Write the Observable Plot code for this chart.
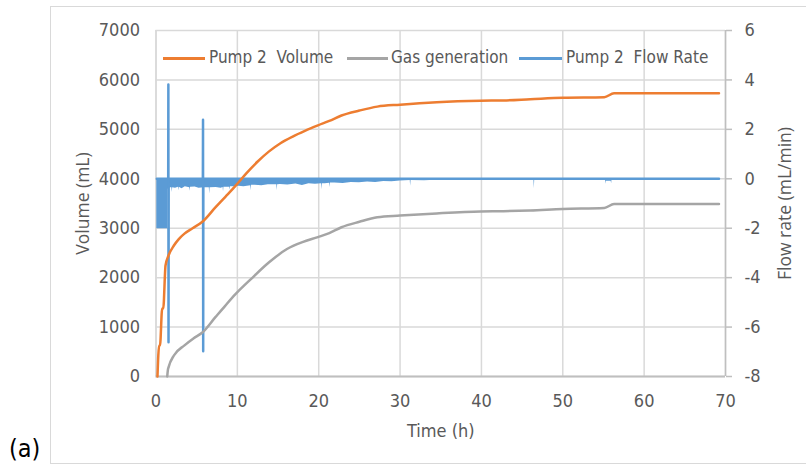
<!DOCTYPE html>
<html>
<head>
<meta charset="utf-8">
<script src="https://cdn.jsdelivr.net/npm/d3@7"></script>
<script src="https://cdn.jsdelivr.net/npm/@observablehq/plot@0.6"></script>
<style>
  html, body { margin: 0; padding: 0; background: #fff; }
  #wrap { position: relative; width: 806px; height: 467px; overflow: hidden; }
  #border { position: absolute; left: 50px; top: 6px; width: 800px; height: 458px; border: 1.5px solid #d9d9d9; box-sizing: border-box; }
  #chart { position: absolute; left: 0; top: 0; }
  .narrow { font-family: "Liberation Sans Narrow", "DejaVu Sans Condensed", "Roboto", sans-serif; }
  #tag { position: absolute; left: 9px; top: 436px; font-size: 25px; line-height: 1; color: #000; }
  .leg { position: absolute; font-size: 17px; color: #595959; white-space: pre; line-height: 1; }
  .sw { position: absolute; height: 3px; }
</style>
</head>
<body>
<div id="wrap">
  <div id="border"></div>
  <div id="chart"></div>
  <div id="tag" class="narrow">(a)</div>
  <div class="sw" style="left:163px;top:57px;width:42px;background:#ED7D31"></div>
  <div class="leg narrow" style="left:209px;top:49px">Pump 2  Volume</div>
  <div class="sw" style="left:347px;top:57px;width:41px;background:#A5A5A5"></div>
  <div class="leg narrow" style="left:391px;top:49px">Gas generation</div>
  <div class="sw" style="left:519px;top:57px;width:43px;background:#5B9BD5"></div>
  <div class="leg narrow" style="left:566px;top:49px">Pump 2  Flow Rate</div>
</div>
<script>
// ---- data ----
const xTicks = [0, 10, 20, 30, 40, 50, 60, 70];
const volTicks = [0, 1000, 2000, 3000, 4000, 5000, 6000, 7000];
const flowTicks = [-8, -6, -4, -2, 0, 2, 4, 6];

// Pump 2 Volume (mL)
const volT = [0.18, 0.39, 0.49, 0.76, 0.89, 1.17, 1.54, 2.2, 2.8, 3.5, 4.5, 5.7, 7.3, 8.5, 9.8, 11.1, 12.5, 13.9, 15.3, 16.8, 18.3, 19.9, 21.3, 22.8, 25.0, 27.2, 30.0, 34.5, 39.9, 42.7, 46.0, 50.0, 55.1, 56.3, 69.2];
const volV = [0, 627, 627, 1376, 1376, 2245, 2448, 2650, 2780, 2890, 3000, 3130, 3420, 3630, 3860, 4110, 4350, 4555, 4720, 4855, 4970, 5080, 5170, 5280, 5380, 5460, 5500, 5550, 5580, 5585, 5610, 5640, 5650, 5730, 5730];

// Gas generation (mL)
const gasT = [1.38, 1.45, 1.55, 2.2, 3.5, 4.6, 5.7, 7.3, 8.5, 9.8, 11.7, 13.9, 16.1, 18.0, 19.9, 21.3, 22.8, 25.0, 27.2, 30.0, 34.5, 39.9, 42.7, 46.0, 50.0, 55.1, 56.3, 69.2];
const gasV = [0, 120, 190, 425, 630, 770, 890, 1200, 1430, 1670, 1975, 2310, 2580, 2720, 2820, 2900, 3020, 3130, 3220, 3255, 3300, 3340, 3345, 3360, 3390, 3410, 3490, 3490];

// Pump 2 Flow Rate (mL/min): baseline with spikes
const flowT = [0.1, 1.50, 1.52, 1.54, 1.56, 5.76, 5.78, 5.80, 5.82, 69.2];
const flowF = [0, 0, 3.81, -6.61, 0, 0, 2.39, -6.98, 0, 0];

// Pump 2 Flow Rate: lower envelope of the rapid oscillation (upper = 0)
const bandT = [0.1, 1.46, 1.47, 1.8, 1.95, 2.0, 2.05, 2.4, 2.75, 2.8, 2.85, 3.2, 3.6, 4.15, 4.2, 4.25, 4.8, 5.3, 5.9, 6.55, 6.6, 6.65, 7.4, 8.0, 8.25, 8.3, 8.35, 9.05, 9.1, 9.15, 9.5, 10.2, 10.8, 11.65, 11.7, 11.75, 12.2, 13.0, 13.8, 14.85, 14.9, 14.95, 15.3, 16.2, 17.2, 18.0, 18.8, 19.6, 20.35, 20.4, 20.45, 20.8, 21.35, 21.4, 21.45, 22.0, 23.0, 24.0, 25.0, 26.0, 27.0, 28.0, 29.0, 30.0, 31.25, 31.3, 31.35, 33.0, 35.0, 37.0, 40.0, 42.0, 45.0, 46.45, 46.5, 46.55, 50.0, 55.0, 55.25, 55.3, 55.35, 55.6, 55.95, 56.0, 56.05, 56.4, 57.0, 69.2];
const bandLow = [-2.02, -2.02, -0.42, -0.36, -0.36, -0.55, -0.36, -0.38, -0.34, -0.48, -0.34, -0.4, -0.32, -0.36, -0.5, -0.34, -0.33, -0.38, -0.36, -0.36, -0.62, -0.36, -0.35, -0.38, -0.35, -0.52, -0.34, -0.34, -0.46, -0.32, -0.32, -0.3, -0.32, -0.28, -0.48, -0.26, -0.26, -0.28, -0.24, -0.24, -0.48, -0.24, -0.23, -0.25, -0.21, -0.27, -0.2, -0.22, -0.2, -0.44, -0.2, -0.2, -0.18, -0.35, -0.17, -0.17, -0.19, -0.15, -0.16, -0.13, -0.15, -0.11, -0.12, -0.09, -0.07, -0.3, -0.07, -0.08, -0.05, -0.07, -0.04, -0.05, -0.03, -0.03, -0.4, -0.03, -0.02, -0.05, -0.05, -0.22, -0.1, -0.1, -0.1, -0.2, -0.05, -0.03, 0, 0];

// ---- build ----
const toVol = f => (f + 8) * 500;   // secondary axis (-8..6) onto primary (0..7000)
const vol = volT.map((t, i) => ({t, v: volV[i]}));
const gas = gasT.map((t, i) => ({t, v: gasV[i]}));
const flow = flowT.map((t, i) => ({t, f: flowF[i]}));
const band = bandT.map((t, i) => ({t, lo: bandLow[i]}));

const narrow = '"Liberation Sans Narrow", "DejaVu Sans Condensed", Roboto, sans-serif';
const wide = '"Open Sans", "Noto Sans", sans-serif';
const grey = "#595959";

const chart = Plot.plot({
  width: 806,
  height: 467,
  marginLeft: 155.5,
  marginRight: 81,
  marginTop: 30,
  marginBottom: 91,
  style: {fontFamily: narrow, color: grey, background: "transparent"},
  x: {domain: [0, 70]},
  y: {domain: [0, 7000]},
  marks: [
    Plot.gridX(xTicks, {stroke: "#d9d9d9", strokeOpacity: 1, strokeWidth: 1.5}),
    Plot.gridY(volTicks, {stroke: "#d9d9d9", strokeOpacity: 1, strokeWidth: 1.5}),
    Plot.ruleX([0], {stroke: "#d9d9d9", strokeWidth: 1.5}),
    Plot.ruleX([70], {stroke: "#bfbfbf", strokeWidth: 1.5}),
    Plot.ruleY([0], {stroke: "#bfbfbf", strokeWidth: 2}),
    Plot.axisX(xTicks, {tickSize: 0, tickPadding: 18, fontSize: 18, fill: grey, tickFormat: d => String(d), label: null}),
    Plot.axisY(volTicks, {anchor: "left", tickSize: 0, tickPadding: 16, fontSize: 18, fill: grey, tickFormat: d => String(d), label: null}),
    Plot.axisY(flowTicks.map(toVol), {anchor: "right", tickSize: 6, tickPadding: 13, fontSize: 18, fill: grey, stroke: "#bfbfbf", strokeWidth: 1.5, tickFormat: v => String(v / 500 - 8), label: null}),
    Plot.text(["Volume (mL)"], {frameAnchor: "left", textAnchor: "middle", dx: -73, rotate: -90, fontFamily: wide, fontSize: 17.5, fill: grey}),
    Plot.text(["Flow rate (mL/min)"], {frameAnchor: "right", textAnchor: "middle", dx: 60, rotate: -90, fontFamily: wide, fontSize: 17.5, fill: grey}),
    Plot.text(["Time (h)"], {frameAnchor: "bottom", dy: 60, fontSize: 18, fill: grey}),
    Plot.areaY(band, {x: "t", y1: () => toVol(0), y2: d => toVol(d.lo), fill: "#5B9BD5"}),
    Plot.lineY(flow, {x: "t", y: d => toVol(d.f), stroke: "#5B9BD5", strokeWidth: 2.5}),
    Plot.lineY(gas, {x: "t", y: "v", stroke: "#A5A5A5", strokeWidth: 2.5, curve: "monotone-x"}),
    Plot.lineY(vol, {x: "t", y: "v", stroke: "#ED7D31", strokeWidth: 2.5, curve: "monotone-x"})
  ]
});
document.getElementById("chart").appendChild(chart);
</script>
</body>
</html>
